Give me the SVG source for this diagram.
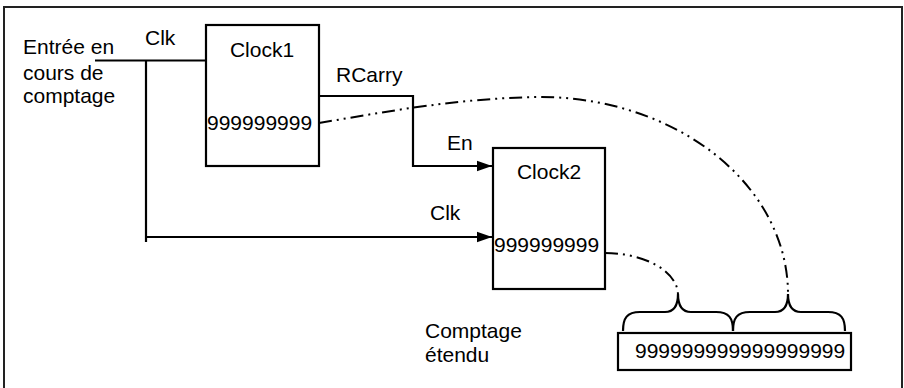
<svg xmlns="http://www.w3.org/2000/svg" width="904" height="388" viewBox="0 0 904 388">
<style>
text{font-family:"Liberation Sans",Arial,Helvetica,sans-serif;font-size:21px;fill:#000}
.box{fill:#fff;stroke:#000;stroke-width:2.2}
.wire{fill:none;stroke:#000;stroke-width:2.2}
.dd{fill:none;stroke:#000;stroke-width:2;stroke-dasharray:13 5 2 5 2 5}
.brace{fill:none;stroke:#000;stroke-width:2.2}
</style>
<defs>
<marker id="ah" markerWidth="16" markerHeight="12" refX="15" refY="6" orient="auto" markerUnits="userSpaceOnUse">
<path d="M0,0.8 L15,6 L0,11.2 Z" fill="#000"/>
</marker>
</defs>
<rect x="4" y="7" width="898" height="390" fill="#fff" stroke="#222" stroke-width="2"/>
<g id="input-label">
<text x="23" y="54">Entrée en</text>
<text x="23" y="79.5">cours de</text>
<text x="23" y="103">comptage</text>
</g>
<g id="connectors">
<path class="wire" d="M95,60.5 H206"/>
<path class="wire" d="M146,60.5 V242"/>
<path class="wire" d="M146,237 H492" marker-end="url(#ah)"/>
<path class="wire" d="M319,96 H413 V166 H492" marker-end="url(#ah)"/>
<path class="dd" d="M319,123 C390,111 460,98 540,97 A248,197 0 0 1 788,294"/>
<path class="dd" d="M605,253 A73,42 0 0 1 678,295"/>
<text x="145" y="45">Clk</text>
<text x="336" y="82">RCarry</text>
<text x="447" y="150">En</text>
<text x="430" y="220">Clk</text>
</g>
<g id="clock1">
<rect class="box" x="206" y="25" width="113" height="141"/>
<text x="262" y="57" text-anchor="middle">Clock1</text>
<text x="207" y="130">999999999</text>
</g>
<g id="clock2">
<rect class="box" x="493" y="148" width="112" height="141"/>
<text x="549" y="179" text-anchor="middle">Clock2</text>
<text x="494" y="252">999999999</text>
</g>
<g id="braces">
<path class="brace" d="M623,331 C623,318 627,312 640,312 L665,312 C674,312 678,306 678,294 C678,306 682,312 691,312 L716,312 C729,312 733,318 733,331"/>
<path class="brace" d="M733,331 C733,318 737,312 750,312 L775,312 C784,312 788,306 788,294 C788,306 792,312 801,312 L828,312 C841,312 845,318 845,331"/>
</g>
<g id="extended-label">
<text x="425" y="338">Comptage</text>
<text x="425" y="362">étendu</text>
</g>
<g id="extended-counter">
<rect class="box" x="618" y="333" width="233" height="37"/>
<text x="635" y="358">999999999999999999</text>
</g>
</svg>
